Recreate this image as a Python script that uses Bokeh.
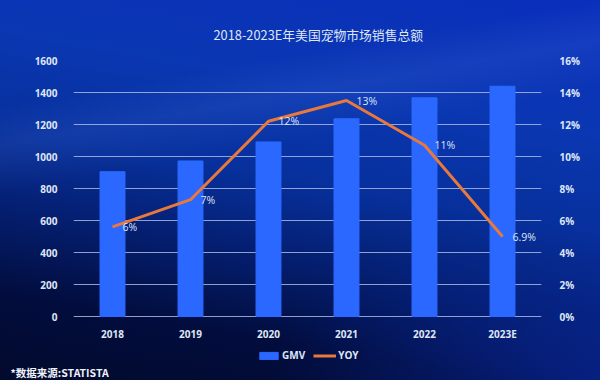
from bokeh.plotting import figure
from bokeh.core.properties import value
from bokeh.models import (ColumnDataSource, Range1d, LinearAxis, FactorRange, Title,
                          Legend, LegendItem, FixedTicker, PrintfTickFormatter)
from bokeh.embed import file_html
from bokeh.resources import INLINE

years = ["2018", "2019", "2020", "2021", "2022", "2023E"]
gmv = [905, 972, 1091, 1236, 1367, 1439]
yoy = [5.6, 7.3, 12.2, 13.5, 10.7, 5.0]
yoy_labels = ["6%", "7%", "12%", "13%", "11%", "6.9%"]
left_ticks = [0, 200, 400, 600, 800, 1000, 1200, 1400, 1600]
right_ticks = [0, 2, 4, 6, 8, 10, 12, 14, 16]
title_text = "2018-2023E年美国宠物市场销售总额"
source_text = "*数据来源:STATISTA"

BAR = "#2b68ff"
LINE = "#e8793a"
TXT = "#dfe6f6"

src = ColumnDataSource(dict(year=years, gmv=gmv, yoy=yoy, lab=yoy_labels,
                            base=[0] * len(years)))

# frame spans from the 1600 line (y=60) down to y=362; 0 sits at y=316 (0.16 px per unit)
p = figure(width=600, height=380, x_range=FactorRange(*years), y_range=Range1d(-287.5, 1600),
           output_backend="svg", toolbar_location=None, x_axis_location=None,
           min_border_left=73, min_border_right=59, min_border_top=60, min_border_bottom=18)
p.title.text = title_text
p.title.align = "left"
p.title.offset = 140
p.title.text_font = "Noto Sans CJK SC"
p.title.text_font_size = "12.8px"
p.title.text_font_style = "normal"
p.title.text_color = TXT
p.title.standoff = 34
p.border_fill_color = None
p.background_fill_color = None
p.outline_line_color = None
p.styles = {
    "background": "linear-gradient(170deg, rgba(120,160,255,0) 22%, rgba(120,160,255,0.10) 30%, rgba(120,160,255,0) 40%),"
                  "radial-gradient(ellipse 55% 45% at 100% 100%, rgba(10,45,175,0.55), rgba(10,45,175,0)),"
                  "linear-gradient(190deg, #0a2fbc 0%, #0a37b2 28%, #07309c 48%, #041d6c 66%, #020d3e 82%, #020a2c 100%)"
}

p.extra_y_ranges = {"pct": Range1d(-2.875, 16)}

bars = p.vbar(x="year", top="gmv", width=0.32, source=src, color=BAR)
line = p.line(x="year", y="yoy", source=src, y_range_name="pct", line_color=LINE, line_width=3)
p.text(x="year", y="yoy", text="lab", source=src, y_range_name="pct", x_offset=10,
       text_baseline="middle", text_color=TXT, text_font_size="10.5px",
       text_font=value("Open Sans"))
# category labels under the baseline
p.text(x="year", y="base", text="year", source=src, y_offset=17, text_align="center",
       text_baseline="middle", text_color=TXT, text_font_size="10px",
       text_font=value("Open Sans"), text_font_style="bold")

p.yaxis[0].ticker = FixedTicker(ticks=left_ticks)
ax_r = LinearAxis(y_range_name="pct", ticker=FixedTicker(ticks=right_ticks),
                  formatter=PrintfTickFormatter(format="%d%%"))
p.add_layout(ax_r, "right")

for ax in p.yaxis:
    ax.axis_line_color = None
    ax.major_tick_line_color = None
    ax.minor_tick_line_color = None
    ax.major_label_text_color = TXT
    ax.major_label_text_font = "Open Sans"
    ax.major_label_text_font_size = "10px"
    ax.major_label_text_font_style = "bold"
p.yaxis[0].major_label_standoff = 10
ax_r.major_label_standoff = 12

p.xgrid.grid_line_color = None
p.ygrid.ticker = FixedTicker(ticks=left_ticks)
p.ygrid.grid_line_color = "#a9b8e2"
p.ygrid.grid_line_alpha = 0.85

legend = Legend(items=[LegendItem(label="GMV", renderers=[bars]),
                       LegendItem(label="YOY", renderers=[line])],
                orientation="horizontal", location=(184, 0),
                background_fill_alpha=0, border_line_color=None,
                label_text_color=TXT, label_text_font="Open Sans", label_text_font_size="10px",
                label_text_font_style="bold", label_height=12,
                glyph_width=23, glyph_height=9, label_standoff=2, spacing=8,
                padding=0, margin=0)
p.add_layout(legend, "center")

p.add_layout(Title(text=source_text, align="left", offset=-63, standoff=0,
                   text_color="#eef2fb", text_font="Noto Sans CJK SC", text_font_size="10.5px",
                   text_font_style="bold"), "below")

open("out.html", "w").write(file_html(p, INLINE))
